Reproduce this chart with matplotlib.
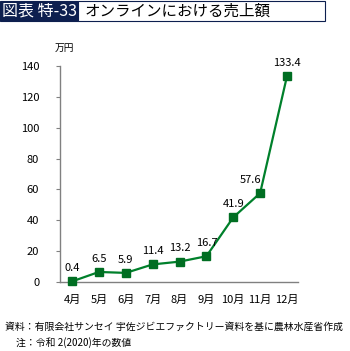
import matplotlib
matplotlib.use("Agg")
import matplotlib.pyplot as plt
from matplotlib.patches import Rectangle

plt.rcParams['font.family'] = ['Noto Sans CJK JP', 'DejaVu Sans']

months = ['4月', '5月', '6月', '7月', '8月', '9月', '10月', '11月', '12月']
sales = [0.4, 6.5, 5.9, 11.4, 13.2, 16.7, 41.9, 57.6, 133.4]
yticks = [0, 20, 40, 60, 80, 100, 120, 140]

navy = '#0d1f4f'
green_line = '#00802b'
green_mark = '#006e22'

W, H = 350, 351
fig = plt.figure(figsize=(W / 100, H / 100), dpi=100)

# title bar
fig.patches.append(Rectangle((0 / W, 1 - 21 / H), 78 / W, 20 / H,
                             transform=fig.transFigure, facecolor=navy,
                             edgecolor=navy, lw=0.8))
fig.patches.append(Rectangle((78 / W, 1 - 21 / H), 247 / W, 20 / H,
                             transform=fig.transFigure, facecolor='white',
                             edgecolor=navy, lw=0.8))
fig.text(2 / W, 1 - 11 / H, '図表 特-33', color='white', fontsize=11.5,
         va='center', ha='left')
fig.text(85 / W, 1 - 11 / H, 'オンラインにおける売上額', color='black',
         fontsize=11.2, va='center', ha='left')

ax = fig.add_axes([60 / W, 1 - 282 / H, 238 / W, 216 / H])
x = list(range(len(months)))
ax.plot(x, sales, color=green_line, lw=1.6, marker='s', markersize=5.5,
        markerfacecolor=green_mark, markeredgecolor=green_mark, clip_on=False,
        zorder=3)
for xi, v in zip(x, sales):
    dx = -7 if v == 57.6 else 0
    ax.annotate(f'{v}', (xi, v), xytext=(dx, 6), textcoords='offset points',
                ha='center', va='bottom', fontsize=8)

ax.set_xlim(-0.45, 8.41)
ax.set_ylim(0, 140)
ax.set_yticks(yticks)
ax.set_xticks(x)
ax.set_xticklabels(months)
ax.tick_params(axis='x', length=0, pad=9, labelsize=8)
ax.tick_params(axis='y', length=3, width=0.8, color='#808080', pad=12,
               labelsize=8)
for s in ['top', 'right']:
    ax.spines[s].set_visible(False)
for s in ['left', 'bottom']:
    ax.spines[s].set_color('#808080')
    ax.spines[s].set_linewidth(1.0)

fig.text(64 / W, 1 - 48 / H, '万円', fontsize=7, ha='center', va='center')

fig.text(5 / W, 1 - 327 / H,
         '資料：有限会社サンセイ 宇佐ジビエファクトリー資料を基に農林水産省作成',
         fontsize=7.1, ha='left', va='center')
fig.text(16 / W, 1 - 343 / H, '注：令和 2(2020)年の数値',
         fontsize=7.1, ha='left', va='center')

fig.savefig('out.png', dpi=100)
